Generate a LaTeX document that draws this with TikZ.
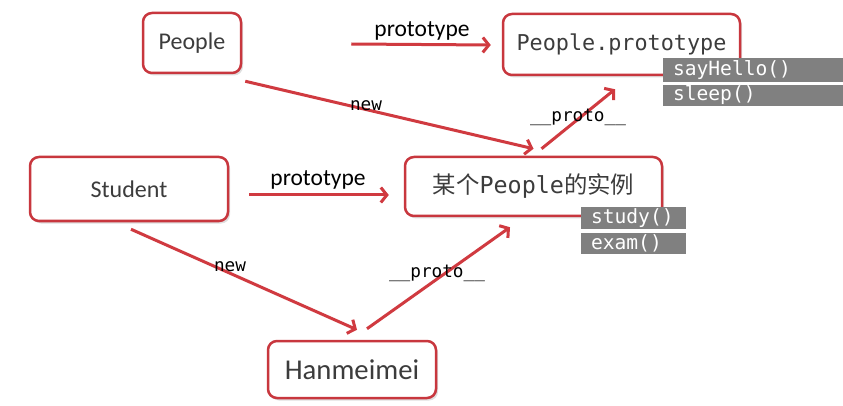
\documentclass[tikz,border=0pt]{standalone}
\usepackage{fontspec}
\setmainfont{Carlito}
\newfontfamily\monof{DejaVu Sans Mono}
\newfontfamily\cjkf{Noto Sans CJK SC}
\usetikzlibrary{arrows.meta,shadows}
\definecolor{boxred}{RGB}{200,55,62}
\definecolor{arrred}{RGB}{208,58,64}
\definecolor{txtgray}{RGB}{60,60,60}
\definecolor{methgray}{RGB}{128,128,128}
\begin{document}
\begin{tikzpicture}[x=1pt,y=-1pt,
  box/.style={draw=boxred, line width=2.5pt, rounded corners=9pt, fill=white,
    text=txtgray, inner sep=0pt,
    drop shadow={shadow xshift=2pt, shadow yshift=-2.5pt, opacity=0.25}},
  meth/.style={fill=methgray, text=white, inner xsep=10pt, inner ysep=0pt,
    font=\monof\fontsize{19.6}{20}\selectfont, align=left},
  conn/.style={draw=arrred, line width=3pt, -{Straight Barb[length=6pt,width=15pt]}},
  lab/.style={text=black, inner sep=0pt},
  monolab/.style={lab, font=\monof\fontsize{17.7}{19}\selectfont},
  sanslab/.style={lab, font=\fontsize{23.5}{26}\selectfont}]
\useasboundingbox[fill=white] (0,0) rectangle (843,406);
% boxes
\node[box, minimum width=98pt, minimum height=60pt, font=\fontsize{24}{26}\selectfont] (people) at (192,43) {People};
\node[box, minimum width=237pt, minimum height=61pt, font=\monof\fontsize{21.8}{24}\selectfont] (proto) at (621.5,44.5) {People.prototype};
\node[box, minimum width=198pt, minimum height=64pt, font=\fontsize{24}{26}\selectfont] (student) at (129,189) {Student};
\node[box, minimum width=257pt, minimum height=59pt, font=\fontsize{23.4}{26}\selectfont] (inst) at (533.5,186.5) {{\cjkf 某个}{\monof People}{\cjkf 的实例}};
\node[box, minimum width=168pt, minimum height=57pt, font=\fontsize{28.7}{31}\selectfont] (han) at (352,369.5) {Hanmeimei};
% method boxes
\node[meth, minimum width=180pt, text width=160pt, minimum height=24pt] (sayhello) at (753,70) {sayHello()};
\node[meth, minimum width=180pt, text width=160pt, minimum height=21pt] (sleep) at (753,95.5) {sleep()};
\node[meth, minimum width=105pt, text width=85pt, minimum height=22pt] (study) at (633.5,218) {study()};
\node[meth, minimum width=105pt, text width=85pt, minimum height=21pt] (exam) at (633.5,243.5) {exam()};
% connectors
\draw[conn] ([xshift=109pt,yshift=-1pt]people.east) -- ([yshift=-0.5pt,xshift=-11pt]proto.west);
\draw[conn] ([xshift=3pt,yshift=-7pt]people.south east) -- ([yshift=7pt]inst.north);
\draw[conn] ([xshift=8pt,yshift=7pt]inst.north) -- ([xshift=-6.5pt,yshift=-13pt]proto.south);
\draw[conn] ([xshift=20pt,yshift=-6pt]student.east) -- ([xshift=-15pt,yshift=-8.5pt]inst.west);
\draw[conn] ([xshift=2pt,yshift=-7pt]student.south) -- ([xshift=5pt,yshift=10pt]han.north);
\draw[conn] ([xshift=15pt,yshift=11pt]han.north) -- ([xshift=-23.5pt,yshift=-10pt]inst.south);
% labels
\node[sanslab] (l1) at (422,31) {prototype};
\node[monolab] (l2) at (366,106) {new};
\node[monolab] (l3) at (578,117) {\_\_proto\_\_};
\node[sanslab] (l4) at (318,180) {prototype};
\node[monolab] (l5) at (230,267) {new};
\node[monolab] (l6) at (437,273) {\_\_proto\_\_};
\end{tikzpicture}
\end{document}
